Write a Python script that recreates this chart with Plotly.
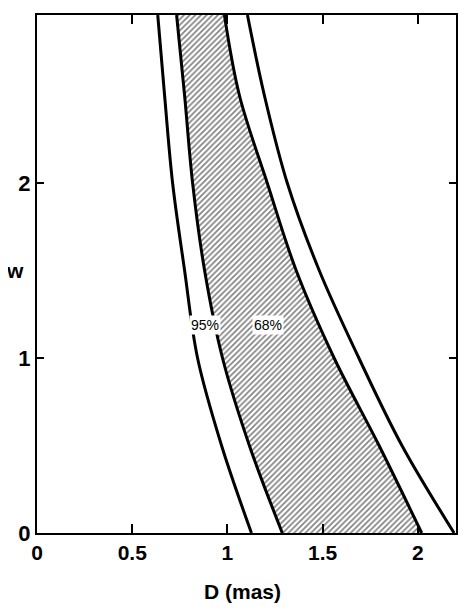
import plotly.graph_objects as go

w_vals = [0.0, 0.5, 1.0, 1.5, 2.0, 2.5, 2.96]

# D (mas) of the four contours
d95_left = [1.126, 0.969, 0.843, 0.775, 0.712, 0.670, 0.634]
d68_left = [1.288, 1.115, 0.974, 0.880, 0.817, 0.775, 0.733]
d68_right = [2.020, 1.796, 1.560, 1.361, 1.209, 1.063, 0.984]
d95_right = [2.190, 1.916, 1.690, 1.482, 1.314, 1.194, 1.105]

x_ticks = [0, 0.5, 1, 1.5, 2]
x_labels = ["0", "0.5", "1", "1.5", "2"]
y_ticks = [0, 1, 2]
y_labels = ["0", "1", "2"]

labels = ["95%", "68%"]
label_d = [0.88, 1.215]
label_w = [1.19, 1.19]

FONT = "Liberation Sans, Arial, sans-serif"

fig = go.Figure()

# hatched 68% region
fig.add_trace(go.Scatter(
    x=d68_left + d68_right[::-1],
    y=w_vals + w_vals[::-1],
    fill="toself",
    mode="none",
    fillcolor="rgba(0,0,0,0)",
    fillpattern=dict(shape="/", fgcolor="black", bgcolor="white", size=4, solidity=0.4),
    hoverinfo="skip",
    showlegend=False,
))

for d in [d95_left, d68_left, d68_right, d95_right]:
    fig.add_trace(go.Scatter(
        x=d, y=w_vals, mode="lines",
        line=dict(color="black", width=3, shape="spline", smoothing=1.0),
        showlegend=False,
    ))

for t, xx, yy in zip(labels, label_d, label_w):
    fig.add_annotation(
        x=xx, y=yy, text=t, showarrow=False,
        font=dict(family=FONT, size=14, color="black"),
        bgcolor="white", borderpad=1,
    )

# page body adds 8px, so margins are offset accordingly
fig.update_layout(
    width=468, height=610,
    margin=dict(l=29, r=20, t=7, b=85),
    paper_bgcolor="white", plot_bgcolor="white",
    font=dict(family=FONT, color="black"),
)

fig.update_xaxes(
    range=[0, 2.2], tickvals=x_ticks, ticktext=x_labels,
    showgrid=False, zeroline=False, automargin=False,
    showline=True, linecolor="black", linewidth=2, mirror="ticks",
    ticks="inside", ticklen=9, tickwidth=2, tickcolor="black",
    tickfont=dict(family=FONT, size=21, weight="bold"),
)
fig.update_yaxes(
    range=[0, 2.96], tickvals=y_ticks, ticktext=y_labels,
    showgrid=False, zeroline=False, automargin=False,
    showline=True, linecolor="black", linewidth=2, mirror="ticks",
    ticks="inside", ticklen=7, tickwidth=2, tickcolor="black",
    tickfont=dict(family=FONT, size=22, weight="bold"),
)

# axis titles
fig.add_annotation(
    x=0.49, y=0, xref="paper", yref="paper", text="D (mas)", showarrow=False,
    font=dict(family=FONT, size=21, color="black", weight="bold"), yanchor="top", yshift=-45,
)
fig.add_annotation(
    x=0, y=1.5, xref="paper", yref="y", text="w", showarrow=False,
    font=dict(family=FONT, size=21, color="black", weight="bold"), xanchor="center", xshift=-22,
)

fig.write_html("out.html")
